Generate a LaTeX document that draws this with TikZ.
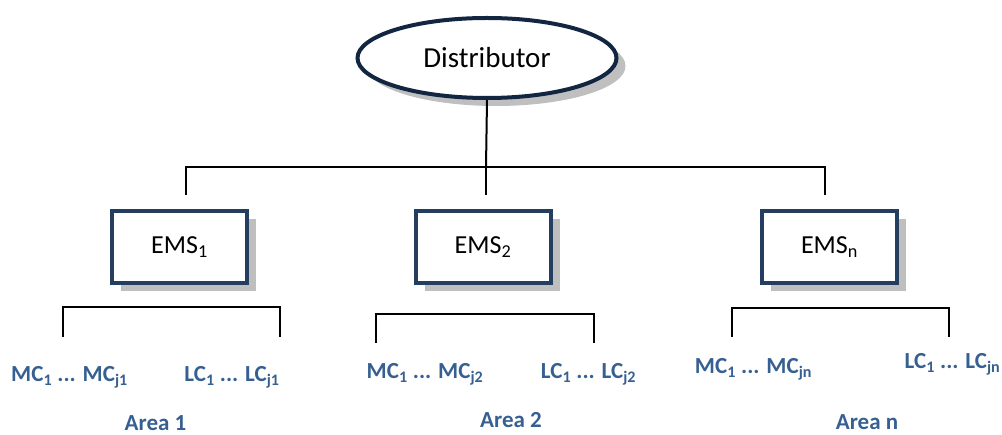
\documentclass[tikz,border=0pt]{standalone}
\usepackage{fontspec}
\setmainfont{Carlito}
\usetikzlibrary{shapes.geometric,shadows,calc}
\definecolor{labelblue}{RGB}{55,96,146}
\definecolor{boxnavy}{RGB}{36,62,96}
\definecolor{ovalnavy}{RGB}{18,38,66}
\definecolor{shadowgrey}{RGB}{191,191,191}
\tikzset{
  wire/.style={line width=2pt, black},
  shade/.style={drop shadow={shadow xshift=9pt, shadow yshift=-8pt, fill=shadowgrey, opacity=1}},
  ovalbox/.style={ellipse, draw=ovalnavy, line width=4pt, fill=white, shade,
    minimum width=259pt, minimum height=80pt, inner sep=0pt,
    font=\fontsize{29}{33}\selectfont},
  emsbox/.style={rectangle, draw=boxnavy, line width=4pt, fill=white, shade,
    minimum width=135pt, minimum height=72pt, inner sep=0pt,
    font=\fontsize{26}{30}\selectfont},
  lbl/.style={text=labelblue, inner sep=0pt, font=\fontsize{23}{27}\selectfont\bfseries},
}
\begin{document}
\begin{tikzpicture}[x=1pt, y=-1pt]
\useasboundingbox (0,0) rectangle (1002,435);

% top of the tree
\node[ovalbox] (dist) at (487,58) {Distributor};

% energy management systems
\node[emsbox] (ems1) at (179.5,247) {EMS\textsubscript{1}};
\node[emsbox] (ems2) at (483,247) {EMS\textsubscript{2}};
\node[emsbox] (emsn) at (829.5,247) {EMS\textsubscript{n}};

% bus from the distributor to the three systems
\coordinate (busl) at (186,167);
\coordinate (busm) at (486,167);
\coordinate (busr) at (825,167);
\draw[wire] (dist.south) -- (busm);
\draw[wire] (busl |- 0,195) -- (busl) -- (busr) -- (busr |- 0,195);
\draw[wire] (busm) -- (busm |- 0,195);

% brackets over each area
\coordinate (a1l) at (63,307);   \coordinate (a1r) at (280,307);
\coordinate (a2l) at (376,314);  \coordinate (a2r) at (594,314);
\coordinate (anl) at (732,308);  \coordinate (anr) at (949,308);
\draw[wire] ($(a1l)+(0,30)$) -- (a1l) -- (a1r) -- ($(a1r)+(0,30)$);
\draw[wire] ($(a2l)+(0,29)$) -- (a2l) -- (a2r) -- ($(a2r)+(0,29)$);
\draw[wire] ($(anl)+(0,29)$) -- (anl) -- (anr) -- ($(anr)+(0,29)$);

% area contents
\node[lbl] (mc1) at (69.5,377) {MC\textsubscript{1} ... MC\textsubscript{j1}};
\node[lbl] (lc1) at (232,377) {LC\textsubscript{1} ... LC\textsubscript{j1}};
\node[lbl] (ar1) at (155.5,423) {Area 1};

\node[lbl] (mc2) at (425,374) {MC\textsubscript{1} ... MC\textsubscript{j2}};
\node[lbl] (lc2) at (588.5,374) {LC\textsubscript{1} ... LC\textsubscript{j2}};
\node[lbl] (ar2) at (511,420) {Area 2};

\node[lbl] (mcn) at (753.5,369) {MC\textsubscript{1} ... MC\textsubscript{jn}};
\node[lbl] (lcn) at (952.5,364) {LC\textsubscript{1} ... LC\textsubscript{jn}};
\node[lbl] (arn) at (867,422) {Area n};
\end{tikzpicture}
\end{document}
